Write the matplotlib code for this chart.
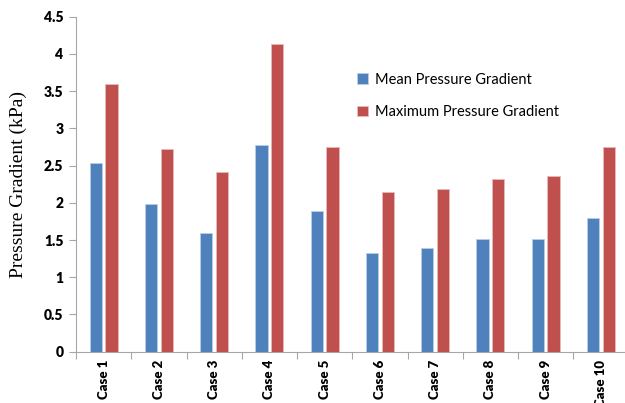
import matplotlib
matplotlib.use("Agg")
import matplotlib.pyplot as plt
import numpy as np
from matplotlib.ticker import FixedLocator

cases = ["Case 1", "Case 2", "Case 3", "Case 4", "Case 5",
         "Case 6", "Case 7", "Case 8", "Case 9", "Case 10"]
mean_grad = [2.53, 1.98, 1.59, 2.77, 1.89, 1.32, 1.39, 1.51, 1.51, 1.80]
max_grad = [3.59, 2.72, 2.42, 4.13, 2.75, 2.15, 2.19, 2.32, 2.36, 2.75]
yticks = [0, 0.5, 1, 1.5, 2, 2.5, 3, 3.5, 4, 4.5]
ytick_labels = ["0", "0.5", "1", "1.5", "2", "2.5", "3", "3.5", "4", "4.5"]

blue = "#4F81BD"
red = "#C0504D"
axis_gray = "#A6A6A6"

fig = plt.figure(figsize=(6.25, 4.03), dpi=100)
ax = fig.add_axes([0.1216, 0.1273, 0.884, 0.8313])

x = np.arange(len(cases))
w = 0.225
off = 0.142
ax.bar(x - off, mean_grad, w, color=blue, edgecolor="#B9CDE5", linewidth=0.6,
       label="Mean Pressure Gradient", zorder=3)
ax.bar(x + off, max_grad, w, color=red, edgecolor="#E6B9B8", linewidth=0.6,
       label="Maximum Pressure Gradient", zorder=3)

ax.set_xlim(-0.5, 9.5)
ax.set_ylim(0, 4.5)
ax.set_yticks(yticks)
ax.set_yticklabels(ytick_labels, fontfamily="Lato", fontweight="heavy", fontsize=10)
ax.set_xticks(x)
ax.set_xticklabels(cases, rotation=90, fontfamily="Lato", fontweight="heavy", fontsize=9.5)
ax.tick_params(axis="x", which="major", length=0, pad=6)
ax.xaxis.set_minor_locator(FixedLocator(np.arange(-0.5, 10, 1.0)))
ax.tick_params(axis="x", which="minor", length=5, color=axis_gray, width=0.8)
ax.tick_params(axis="y", length=5, color=axis_gray, width=0.8, pad=4)

for s in ["top", "right"]:
    ax.spines[s].set_visible(False)
for s in ["left", "bottom"]:
    ax.spines[s].set_color(axis_gray)
    ax.spines[s].set_linewidth(0.8)

ax.set_ylabel("Pressure Gradient (kPa)", fontfamily="Liberation Serif", fontsize=14, labelpad=12)

leg = ax.legend(loc="upper left", bbox_to_anchor=(0.4855, 0.872), frameon=False,
                prop={"family": "Lato", "size": 10.5}, labelspacing=1.25,
                handlelength=0.7, handleheight=0.7, handletextpad=0.5)

fig.savefig("out.png", dpi=100)
